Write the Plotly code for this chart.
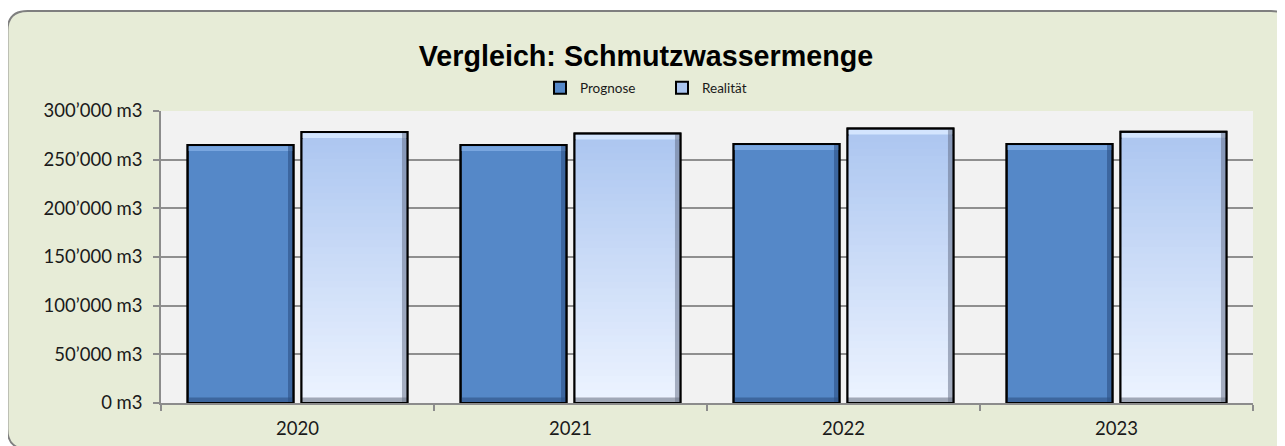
import plotly.graph_objects as go

# ---- data ----
years = ["2020", "2021", "2022", "2023"]
prognose = [265000, 265000, 266000, 266000]
realitaet = [278500, 277000, 282000, 278700]
y_tickvals = [0, 50000, 100000, 150000, 200000, 250000, 300000]
y_ticktext = ["0 m3", "50’000 m3", "100’000 m3", "150’000 m3",
              "200’000 m3", "250’000 m3", "300’000 m3"]

OFF = 8  # browser body margin
W, H = 1285 - OFF, 446 - OFF
# plot area in page pixels
PL, PR, PT, PB = 161, 1253, 111, 403
L, R, T, B = PL - OFF, W - (PR - OFF), PT - OFF, H - (PB - OFF)
PW, PH = PR - PL, PB - PT
YMAX = 300000

def px_x(px):
    return (px - PL) / PW

def px_y(py):
    return (PB - py) / PH

def cx(px):
    return (px - OFF) / W

def cy(py):
    return 1 - (py - OFF) / H

def lerp(c1, c2, t):
    return "rgb(%d,%d,%d)" % tuple(round(a + (b - a) * t) for a, b in zip(c1, c2))

BW = 0.388      # bar width in category units
HG = 0.0147     # half gap between paired bars
BEV = YMAX * 6 / PH  # bevel thickness (data units)

fig = go.Figure()

def add_series(name, vals, offset, top_rgb, bot_rgb, steps, hi_col, sh_col, bot_col):
    n = steps
    for i in range(n):
        t = i / max(n - 1, 1)
        h = [v * (n - i) / n for v in vals]
        fig.add_trace(go.Bar(
            x=years, y=h, name=name, width=BW, offset=offset,
            marker=dict(color=lerp(top_rgb, bot_rgb, t),
                        line=dict(color="black", width=2 if i == 0 else 0)),
            showlegend=(i == 0), legendgroup=name, hoverinfo="skip" if i else None,
        ))
    # top highlight bevel
    fig.add_trace(go.Bar(
        x=years, y=[BEV * 0.8] * len(vals), base=[v - BEV for v in vals],
        width=BW, offset=offset, marker=dict(color=hi_col, line=dict(width=0)),
        showlegend=False, legendgroup=name, hoverinfo="skip"))
    # right shadow bevel
    fig.add_trace(go.Bar(
        x=years, y=vals, width=0.02, offset=offset + BW - 0.02,
        marker=dict(color=sh_col, line=dict(width=0)),
        showlegend=False, legendgroup=name, hoverinfo="skip"))
    # bottom bevel
    fig.add_trace(go.Bar(
        x=years, y=[BEV * 0.9] * len(vals), base=[0] * len(vals),
        width=BW, offset=offset, marker=dict(color=bot_col, line=dict(width=0)),
        showlegend=False, legendgroup=name, hoverinfo="skip"))
    # outline
    fig.add_trace(go.Bar(
        x=years, y=vals, width=BW, offset=offset, name=name,
        marker=dict(color="rgba(0,0,0,0)", line=dict(color="black", width=2)),
        showlegend=False, legendgroup=name))

add_series("Prognose", prognose, -HG - BW, (85, 136, 200), (85, 136, 200), 1,
           "rgba(125,170,225,0.9)", "rgba(40,75,125,0.55)", "rgba(45,80,130,0.6)")
add_series("Realität", realitaet, HG, (172, 198, 240), (236, 243, 255), 40,
           "rgba(215,232,255,0.9)", "rgba(95,105,130,0.5)", "rgba(110,118,135,0.6)")

# rounded background card (page pixel coords)
x0, y0, x1, y1, r = 7.5, 11, 1291, 449, 20
path = (
    f"M {px_x(x0 + r)},{px_y(y0)} L {px_x(x1 - r)},{px_y(y0)} "
    f"Q {px_x(x1)},{px_y(y0)} {px_x(x1)},{px_y(y0 + r)} "
    f"L {px_x(x1)},{px_y(y1 - r)} Q {px_x(x1)},{px_y(y1)} {px_x(x1 - r)},{px_y(y1)} "
    f"L {px_x(x0 + r)},{px_y(y1)} Q {px_x(x0)},{px_y(y1)} {px_x(x0)},{px_y(y1 - r)} "
    f"L {px_x(x0)},{px_y(y0 + r)} Q {px_x(x0)},{px_y(y0)} {px_x(x0 + r)},{px_y(y0)} Z"
)

fig.update_layout(
    width=W, height=H,
    margin=dict(l=L, r=R, t=T, b=B, pad=0, autoexpand=False),
    paper_bgcolor="white",
    plot_bgcolor="#F2F2F2",
    barmode="overlay",
    font=dict(family="Lato, Liberation Sans, sans-serif", size=18.5, color="#1a1a1a"),
    title=dict(text="<b>Vergleich: Schmutzwassermenge</b>",
               font=dict(family="Liberation Sans, Arial, sans-serif", size=28.7, color="black"),
               x=cx(646), xref="container", xanchor="center",
               y=cy(56), yref="container", yanchor="middle"),
    legend=dict(orientation="h", x=px_x(540), xanchor="left",
                y=px_y(88), yanchor="middle",
                font=dict(size=13.5, family="Lato, sans-serif"),
                bgcolor="rgba(0,0,0,0)", entrywidth=77, itemwidth=30,
                traceorder="normal"),
    shapes=[
        dict(type="path", path=path, xref="paper", yref="paper", layer="below",
             fillcolor="#E7ECD7", line=dict(color="#7F7F7F", width=1.8)),
        dict(type="rect", xref="paper", yref="paper", x0=0, x1=1, y0=0, y1=1,
             layer="below", fillcolor="#F2F2F2", line=dict(width=0)),
    ],
    xaxis=dict(type="category", showgrid=False, showline=True, linecolor="#8C8C8C",
               linewidth=1.5, ticks="outside", tickson="boundaries", ticklen=6,
               tickcolor="#8C8C8C", tickwidth=1.5, ticklabelstandoff=8,
               range=[-0.5, 3.5], fixedrange=True, automargin=False),
    yaxis=dict(range=[0, YMAX], tickvals=y_tickvals, ticktext=y_ticktext,
               showgrid=True, gridcolor="#8F8F8F", gridwidth=1.5,
               showline=True, linecolor="#8C8C8C", linewidth=1.5,
               ticks="outside", ticklen=6, tickcolor="#8C8C8C", tickwidth=1.5,
               ticklabelstandoff=7, zeroline=False, fixedrange=True, automargin=False),
)

fig.write_html("out.html")
